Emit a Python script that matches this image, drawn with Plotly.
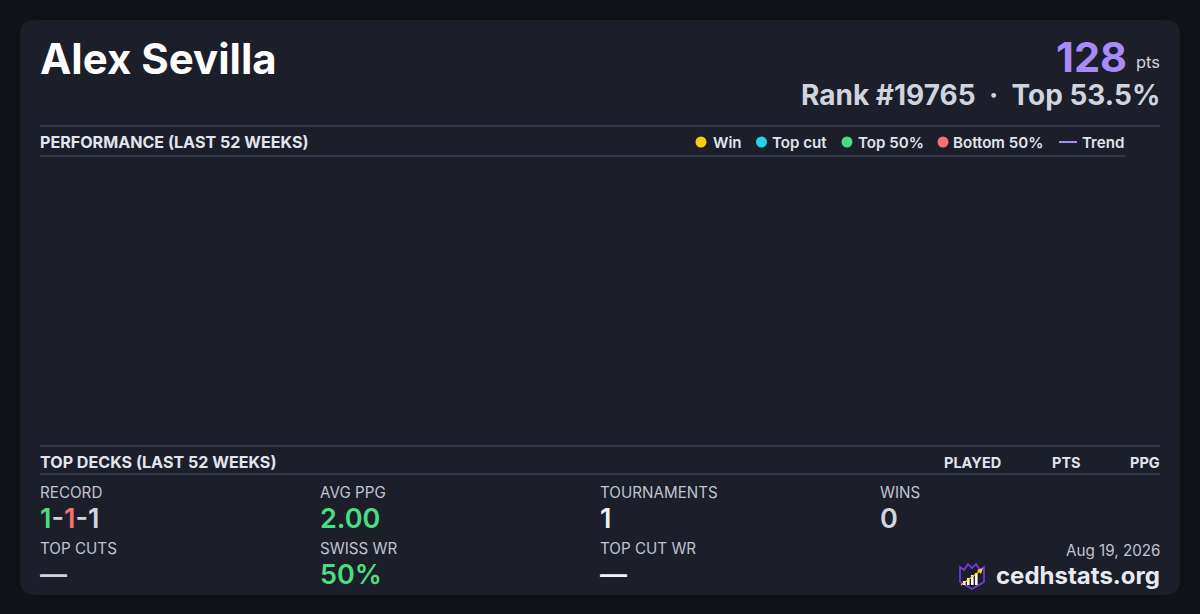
import plotly.graph_objects as go

# player card values
player = "Alex Sevilla"
points = 128
rank = 19765
top_pct = 53.5
card_date = "Aug 19, 2026"

# performance chart (no events in the last 52 weeks)
categories = ["Win", "Top cut", "Top 50%", "Bottom 50%"]
cat_colors = ["#facc15", "#22d3ee", "#4ade80", "#f87171"]
cat_weeks = [[], [], [], []]
cat_points = [[], [], [], []]
trend_weeks = []
trend_points = []
trend_color = "#a78bfa"

# stats block
record_w, record_l, record_d = 1, 1, 1
avg_ppg = 2.00
tournaments = 1
wins = 0
top_cuts = None
swiss_wr = 50
top_cut_wr = None
deck_cols = ["PLAYED", "PTS", "PPG"]

BG = "#111218"
CARD = "#1c1e2a"
RULE = "#475569"
HEAD = "#e2e5ec"
LABEL = "#c0c4cf"
GREEN = "#4ade80"
RED = "#f87171"
GREY = "#cfd4de"
FONT = "Inter"

fig = go.Figure()

for name, col, wk, pt in zip(categories, cat_colors, cat_weeks, cat_points):
    fig.add_trace(go.Scatter(x=wk, y=pt, mode="markers", name=name,
                             marker=dict(color=col, size=10), showlegend=False))
fig.add_trace(go.Scatter(x=trend_weeks, y=trend_points, mode="lines", name="Trend",
                         line=dict(color=trend_color, width=2), showlegend=False))

shapes = []
anns = []


def text(x, y, s, size, color, weight=400, anchor="left"):
    # annotations carry ~2px of padding, nudge so glyphs land on x
    if anchor == "left":
        x -= 2
    elif anchor == "right":
        x += 2
    anns.append(dict(x=x, y=y, xref="x2", yref="y2", text=s, showarrow=False,
                     xanchor=anchor, yanchor="middle",
                     font=dict(family=FONT, size=size, color=color, weight=weight)))


def rule(x0, x1, y):
    shapes.append(dict(type="line", xref="x2", yref="y2", x0=x0, x1=x1, y0=y, y1=y,
                       line=dict(color=RULE, width=1), layer="below"))


# card with rounded corners
r = 16
x0, x1, y0, y1 = 20, 1180, 20, 595
card_path = (f"M{x0+r},{y0} L{x1-r},{y0} Q{x1},{y0} {x1},{y0+r} L{x1},{y1-r} "
             f"Q{x1},{y1} {x1-r},{y1} L{x0+r},{y1} Q{x0},{y1} {x0},{y1-r} "
             f"L{x0},{y0+r} Q{x0},{y0} {x0+r},{y0} Z")
shapes.append(dict(type="path", path=card_path, xref="x2", yref="y2",
                   fillcolor=CARD, line=dict(width=0), layer="below"))

# header
text(40, 58, player, 42, "#ffffff", 700)
text(1160, 62, "pts", 16.5, GREY, 400, "right")
text(1127, 57, str(points), 41.5, "#a78bfa", 700, "right")
text(1160, 95, f"Rank #{rank}  ·  Top {top_pct}%", 28, GREY, 700, "right")

rule(40, 1160, 126)
rule(40, 1125, 156)
text(40, 142, "PERFORMANCE (LAST 52 WEEKS)", 16.1, HEAD, 700)

# legend row
leg_dot_x = [701, 761.5, 847, 943]
leg_text_x = [713, 772, 858, 953]
for cx, tx, name, col in zip(leg_dot_x, leg_text_x, categories, cat_colors):
    shapes.append(dict(type="circle", xref="x2", yref="y2", x0=cx - 5.5, x1=cx + 5.5,
                       y0=136.5, y1=147.5, fillcolor=col, line=dict(width=0)))
    text(tx, 142, name, 15.1, HEAD, 600)
shapes.append(dict(type="line", xref="x2", yref="y2", x0=1059, x1=1077, y0=142, y1=142,
                   line=dict(color=trend_color, width=2)))
text(1082, 142, "Trend", 15.1, HEAD, 600)

# top decks header
rule(40, 1160, 446)
rule(40, 1160, 474)
text(40, 462, "TOP DECKS (LAST 52 WEEKS)", 16.1, HEAD, 700)
for cx, name in zip([972, 1066, 1145], deck_cols):
    text(cx, 462, name, 14.5, HEAD, 700, "center")

# stats grid
dash = "—"
record = (f"<span style='color:{GREEN}'>{record_w}</span>"
          f"<span style='color:{GREY}'>-</span>"
          f"<span style='color:{RED}'>{record_l}</span>"
          f"<span style='color:{GREY}'>-{record_d}</span>")
stats = [
    ("RECORD", record, GREY, 40, 0),
    ("AVG PPG", f"{avg_ppg:.2f}", GREEN, 320, 0),
    ("TOURNAMENTS", str(tournaments), "#eef0f4", 600, 0),
    ("WINS", str(wins), GREY, 880, 0),
    ("TOP CUTS", dash if top_cuts is None else str(top_cuts), GREY, 40, 1),
    ("SWISS WR", f"{swiss_wr}%", GREEN, 320, 1),
    ("TOP CUT WR", dash if top_cut_wr is None else f"{top_cut_wr}%", "#f4f5f8", 600, 1),
]
for label, val, col, x, row in stats:
    yl = 492 + row * 56
    text(x, yl, label, 15.2, LABEL, 400)
    text(x, yl + 26, val, 27, col, 600)

# footer
text(1160, 550, card_date, 15.2, LABEL, 400, "right")
text(1160, 575, "cedhstats.org", 24, "#e8eaf0", 700, "right")

# logo
shapes.append(dict(type="path", xref="x2", yref="y2",
                   path="M960,567 L964,570 L968,564 L972,568 L976,564 L980,570 L984,567 "
                        "L984,582 L972,589 L960,582 Z",
                   fillcolor=CARD, line=dict(color="#7c3aed", width=1.6)))
for bx, top in zip([963, 967, 971, 975], [581, 578, 575, 573]):
    shapes.append(dict(type="rect", xref="x2", yref="y2", x0=bx, x1=bx + 2.6,
                       y0=top, y1=585, fillcolor="#ffffff", line=dict(width=0)))
shapes.append(dict(type="line", xref="x2", yref="y2", x0=961, y0=585, x1=980, y1=571,
                   line=dict(color="#facc15", width=1.4)))
shapes.append(dict(type="path", xref="x2", yref="y2",
                   path="M983,568 L977,570 L981,574 Z",
                   fillcolor="#facc15", line=dict(width=0)))

fig.update_layout(
    width=1200, height=614,
    margin=dict(l=0, r=0, t=0, b=0),
    paper_bgcolor=BG, plot_bgcolor="rgba(0,0,0,0)",
    showlegend=False,
    xaxis=dict(domain=[40 / 1200, 1125 / 1200], visible=False),
    yaxis=dict(domain=[1 - 445 / 614, 1 - 157 / 614], visible=False),
    xaxis2=dict(domain=[0, 1], range=[0, 1200], visible=False, anchor="y2", fixedrange=True),
    yaxis2=dict(domain=[0, 1], range=[614, 0], visible=False, anchor="x2", fixedrange=True),
    shapes=shapes,
    annotations=anns,
)

fig.write_html("out.html", config={"displayModeBar": False},
               post_script="document.body.style.margin='0';")
